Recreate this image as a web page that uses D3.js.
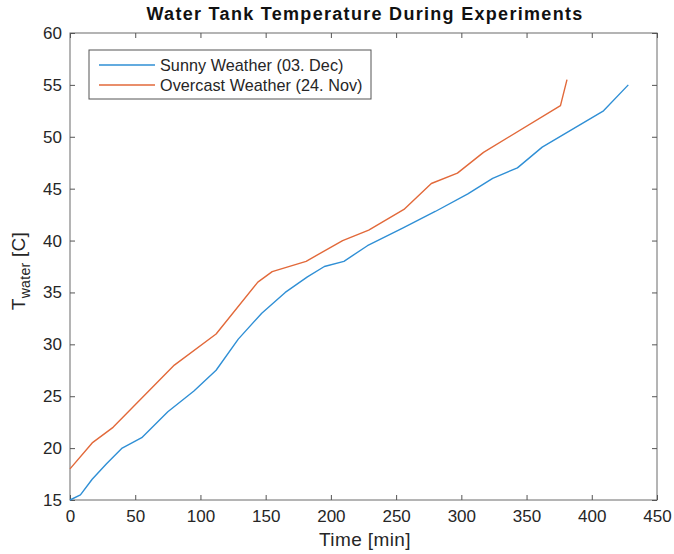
<!DOCTYPE html>
<html>
<head>
<meta charset="utf-8">
<script src="https://cdn.jsdelivr.net/npm/d3@7"></script>
<style>
  html, body { margin: 0; padding: 0; background: #fff; }
  svg { display: block; font-family: "Liberation Sans", Arial, Helvetica, sans-serif; }
</style>
</head>
<body>
<svg id="chart" width="674" height="554"></svg>
<script>
// Sunny day run (03. Dec)
const sunnyTime = [0, 8, 17, 28, 40, 55, 75, 95, 112, 129, 147, 165, 182, 195, 210, 228, 255, 280, 305, 324, 343, 362, 409, 428];
const sunnyTemp = [15, 15.5, 17, 18.5, 20, 21, 23.5, 25.5, 27.5, 30.5, 33, 35, 36.5, 37.5, 38, 39.5, 41.2, 42.8, 44.5, 46, 47, 49, 52.5, 55];

// Overcast day run (24. Nov)
const overcastTime = [0, 17, 33, 80, 112, 144, 155, 181, 209, 229, 256, 277, 297, 317, 376, 381];
const overcastTemp = [18, 20.5, 22, 28, 31, 36, 37, 38, 40, 41, 43, 45.5, 46.5, 48.5, 53, 55.5];

const xTicks = [0, 50, 100, 150, 200, 250, 300, 350, 400, 450];
const yTicks = [15, 20, 25, 30, 35, 40, 45, 50, 55, 60];

const seriesNames = ["Sunny Weather (03. Dec)", "Overcast Weather (24. Nov)"];
const seriesColors = ["#2f8fd5", "#e2693a"];

const svg = d3.select("#chart");
const plotLeft = 70, plotRight = 657, plotTop = 33, plotBottom = 500;
const axisColor = "#262626";

const x = d3.scaleLinear().domain([0, 450]).range([plotLeft, plotRight]);
const y = d3.scaleLinear().domain([15, 60]).range([plotBottom, plotTop]);

// Axes box with inward ticks on all four sides
const tickLen = 5;
const g = svg.append("g");

g.append("rect")
  .attr("x", plotLeft).attr("y", plotTop)
  .attr("width", plotRight - plotLeft).attr("height", plotBottom - plotTop)
  .attr("fill", "none").attr("stroke", "#6b6b6b").attr("stroke-width", 1);

function styleAxis(sel) {
  sel.select(".domain").remove();
  sel.selectAll(".tick line").attr("stroke", "#555");
  sel.selectAll(".tick text")
    .attr("fill", axisColor)
    .attr("font-size", "17px");
}

g.append("g")
  .attr("transform", `translate(0,${plotBottom})`)
  .call(d3.axisBottom(x).tickValues(xTicks).tickSize(-tickLen).tickPadding(10).tickFormat(d3.format("d")))
  .call(styleAxis);

g.append("g")
  .attr("transform", `translate(0,${plotTop})`)
  .call(d3.axisTop(x).tickValues(xTicks).tickSize(-tickLen).tickFormat(""))
  .call(styleAxis);

g.append("g")
  .attr("transform", `translate(${plotLeft},0)`)
  .call(d3.axisLeft(y).tickValues(yTicks).tickSize(-tickLen).tickPadding(8).tickFormat(d3.format("d")))
  .call(styleAxis);

g.append("g")
  .attr("transform", `translate(${plotRight},0)`)
  .call(d3.axisRight(y).tickValues(yTicks).tickSize(-tickLen).tickFormat(""))
  .call(styleAxis);

// Data lines
const line = d3.line().x(d => x(d[0])).y(d => y(d[1]));
const series = [
  d3.zip(sunnyTime, sunnyTemp),
  d3.zip(overcastTime, overcastTemp)
];

svg.append("g").selectAll("path")
  .data(series)
  .join("path")
  .attr("d", line)
  .attr("fill", "none")
  .attr("stroke", (d, i) => seriesColors[i])
  .attr("stroke-width", 1.4)
  .attr("stroke-linejoin", "round");

// Title
svg.append("text")
  .attr("x", 365).attr("y", 20)
  .attr("text-anchor", "middle")
  .attr("font-size", "18px").attr("font-weight", "bold")
  .attr("letter-spacing", "1.3px")
  .attr("fill", "#111")
  .text("Water Tank Temperature During Experiments");

// Axis labels
svg.append("text")
  .attr("x", 365).attr("y", 546)
  .attr("text-anchor", "middle")
  .attr("font-size", "19px")
  .attr("letter-spacing", "0.4px")
  .attr("fill", axisColor)
  .text("Time [min]");

const yl = svg.append("text")
  .attr("transform", `translate(25,271) rotate(-90)`)
  .attr("text-anchor", "middle")
  .attr("font-size", "19px")
  .attr("letter-spacing", "0.3px")
  .attr("fill", axisColor);
yl.append("tspan").text("T");
yl.append("tspan").attr("font-size", "14px").attr("dy", 5).text("water");
yl.append("tspan").attr("dy", -5).text(" [C]");

// Legend
const legend = svg.append("g");
legend.append("rect")
  .attr("x", 89).attr("y", 50)
  .attr("width", 282).attr("height", 49)
  .attr("fill", "#fff").attr("stroke", "#555").attr("stroke-width", 1);

seriesNames.forEach((name, i) => {
  const ly = 65 + i * 20;
  legend.append("line")
    .attr("x1", 99).attr("x2", 155)
    .attr("y1", ly).attr("y2", ly)
    .attr("stroke", seriesColors[i]).attr("stroke-width", 1.4);
  legend.append("text")
    .attr("x", 160).attr("y", ly + 6)
    .attr("font-size", "16.2px")
    .attr("letter-spacing", "0.05px")
    .attr("fill", axisColor)
    .text(name);
});
</script>
</body>
</html>
